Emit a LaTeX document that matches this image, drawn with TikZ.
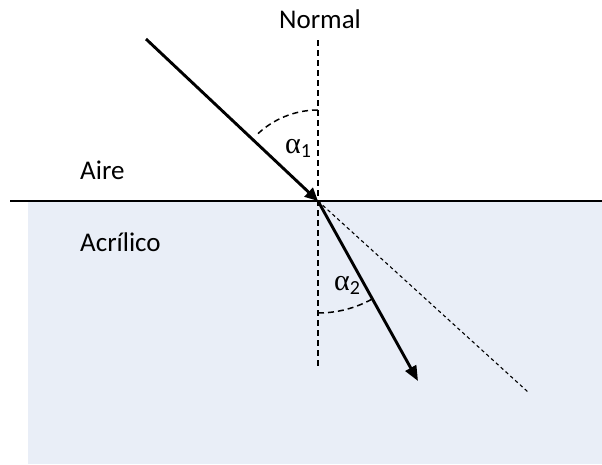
\documentclass[tikz,border=0pt]{standalone}
\usepackage{fontspec}
\setmainfont{Carlito}
\newfontfamily\grk{Liberation Serif}
\usetikzlibrary{arrows.meta}
\definecolor{acr}{RGB}{233,238,247}
\newcommand{\alab}[1]{{\grk\fontsize{30}{32}\selectfont α}\raisebox{-4pt}{\fontsize{20}{22}\selectfont #1}}
\begin{document}
\begin{tikzpicture}[x=1pt,y=-1pt,
  ray/.style={line width=2.9pt,-{Triangle[length=15pt,width=12pt]}},
  lbl/.style={font=\fontsize{27}{30}\selectfont,inner sep=0pt},
  albl/.style={inner sep=0pt},
  normline/.style={line width=1.6pt,dash pattern=on 6pt off 4pt},
  arcline/.style={line width=1.5pt,dash pattern=on 6pt off 4pt},
  cont/.style={line width=1.1pt,dash pattern=on 3.5pt off 3pt}]
\useasboundingbox (0,0) rectangle (602,464);
\fill[acr] (28,202) rectangle (602,464);
\coordinate (O) at (318,201);
\coordinate (S) at (146,39);
\coordinate (R) at (418,381);
\coordinate (D) at (528,392);
\coordinate (Ntop) at (318,40);
\coordinate (Nbot) at (318,368);
\coordinate (L) at (10,201);
\coordinate (Rt) at (602,201);
\draw[line width=2.2pt] (L) -- (Rt);
\draw[normline] (Ntop) -- (Nbot);
\draw[cont] (O) -- (D);
\draw[ray,-{Triangle[length=13pt,width=12pt]}] (S) -- (O);
\draw[ray] (O) -- (R);
\draw[arcline] (318,110) arc[start angle=-90,end angle=-135,radius=88];
\draw[arcline] (318,313) arc[start angle=90,end angle=61,radius=112];
\node[lbl] (n) at (320,19) {Normal};
\node[lbl,anchor=west] (aire) at (80,170) {Aire};
\node[lbl,anchor=west] (acr) at (80,242) {Acrílico};
\node[albl] (a1) at (298,148) {\alab{1}};
\node[albl] (a2) at (347,285) {\alab{2}};
\end{tikzpicture}
\end{document}
